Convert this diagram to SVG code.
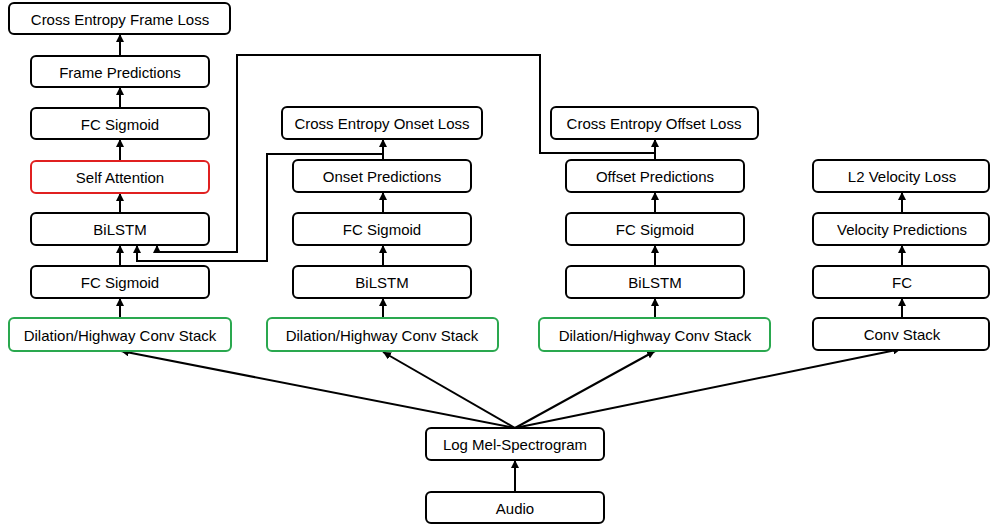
<svg xmlns="http://www.w3.org/2000/svg" width="990" height="524" viewBox="0 0 990 524">
<defs>
<marker id="ah" viewBox="0 0 8 8" refX="8" refY="4" markerWidth="8" markerHeight="8" markerUnits="userSpaceOnUse" orient="auto">
<path d="M0,0 L8,4 L0,8 Z" fill="#000"/>
</marker>
</defs>
<style>
.b{fill:#fff;stroke:#000;stroke-width:2}
.r{fill:#fff;stroke:#e02020;stroke-width:2}
.g{fill:#fff;stroke:#2aa84f;stroke-width:2}
text{font-family:"Liberation Sans",Arial,sans-serif;font-size:15px;text-anchor:middle;dominant-baseline:central;fill:#000}
.c{fill:none;stroke:#000;stroke-width:2}
</style>
<rect width="990" height="524" fill="#fff"/>
<g id="connectors">
<line class="c" x1="120" y1="56" x2="120" y2="34" marker-end="url(#ah)"/>
<line class="c" x1="120" y1="108" x2="120" y2="87" marker-end="url(#ah)"/>
<line class="c" x1="120" y1="161" x2="120" y2="139" marker-end="url(#ah)"/>
<line class="c" x1="120" y1="213" x2="120" y2="193" marker-end="url(#ah)"/>
<line class="c" x1="120" y1="266" x2="120" y2="245" marker-end="url(#ah)"/>
<line class="c" x1="120" y1="318" x2="120" y2="298" marker-end="url(#ah)"/>
<line class="c" x1="383" y1="160" x2="383" y2="139" marker-end="url(#ah)"/>
<line class="c" x1="383" y1="213" x2="383" y2="192" marker-end="url(#ah)"/>
<line class="c" x1="383" y1="266" x2="383" y2="245" marker-end="url(#ah)"/>
<line class="c" x1="383" y1="318" x2="383" y2="298" marker-end="url(#ah)"/>
<line class="c" x1="655" y1="160" x2="655" y2="139" marker-end="url(#ah)"/>
<line class="c" x1="655" y1="213" x2="655" y2="192" marker-end="url(#ah)"/>
<line class="c" x1="655" y1="266" x2="655" y2="245" marker-end="url(#ah)"/>
<line class="c" x1="655" y1="318" x2="655" y2="298" marker-end="url(#ah)"/>
<line class="c" x1="902" y1="213" x2="902" y2="192" marker-end="url(#ah)"/>
<line class="c" x1="902" y1="266" x2="902" y2="245" marker-end="url(#ah)"/>
<line class="c" x1="902" y1="318" x2="902" y2="298" marker-end="url(#ah)"/>
<line class="c" x1="515" y1="492" x2="515" y2="460" marker-end="url(#ah)"/>
<line class="c" x1="515" y1="428" x2="121" y2="351" marker-end="url(#ah)"/>
<line class="c" x1="515" y1="428" x2="383" y2="352" marker-end="url(#ah)"/>
<line class="c" x1="515" y1="428" x2="655" y2="351" marker-end="url(#ah)"/>
<line class="c" x1="515" y1="428" x2="901" y2="349" marker-end="url(#ah)"/>
<polyline class="c" points="655,153 540,153 540,55 237,55 237,252 157,252 157,245" marker-end="url(#ah)"/>
<polyline class="c" points="383,154 267,154 267,261 137,261 137,245" marker-end="url(#ah)"/>
</g>
<g id="n-frame-loss"><rect class="b" x="9" y="3" width="221" height="31" rx="5"/><text x="120" y="19">Cross Entropy Frame Loss</text></g>
<g id="n-frame-pred"><rect class="b" x="31" y="56" width="178" height="31" rx="5"/><text x="120" y="72">Frame Predictions</text></g>
<g id="n-fc-sig-1b"><rect class="b" x="31" y="108" width="178" height="31" rx="5"/><text x="120" y="124">FC Sigmoid</text></g>
<g id="n-self-att"><rect class="r" x="31" y="161" width="178" height="32" rx="5"/><text x="120" y="177">Self Attention</text></g>
<g id="n-bilstm-1"><rect class="b" x="31" y="213" width="178" height="32" rx="5"/><text x="120" y="229">BiLSTM</text></g>
<g id="n-fc-sig-1a"><rect class="b" x="31" y="266" width="178" height="32" rx="5"/><text x="120" y="282">FC Sigmoid</text></g>
<g id="n-dil-1"><rect class="g" x="9" y="318" width="222" height="33" rx="5"/><text x="120" y="335">Dilation/Highway Conv Stack</text></g>
<g id="n-onset-loss"><rect class="b" x="282" y="107" width="200" height="32" rx="5"/><text x="382" y="123">Cross Entropy Onset Loss</text></g>
<g id="n-onset-pred"><rect class="b" x="293" y="160" width="178" height="32" rx="5"/><text x="382" y="176">Onset Predictions</text></g>
<g id="n-fc-sig-2"><rect class="b" x="293" y="213" width="178" height="32" rx="5"/><text x="382" y="229">FC Sigmoid</text></g>
<g id="n-bilstm-2"><rect class="b" x="293" y="266" width="178" height="32" rx="5"/><text x="382" y="282">BiLSTM</text></g>
<g id="n-dil-2"><rect class="g" x="267" y="318" width="231" height="33" rx="5"/><text x="382" y="335">Dilation/Highway Conv Stack</text></g>
<g id="n-offset-loss"><rect class="b" x="551" y="107" width="207" height="32" rx="5"/><text x="654" y="123">Cross Entropy Offset Loss</text></g>
<g id="n-offset-pred"><rect class="b" x="566" y="160" width="178" height="32" rx="5"/><text x="655" y="176">Offset Predictions</text></g>
<g id="n-fc-sig-3"><rect class="b" x="566" y="213" width="178" height="32" rx="5"/><text x="655" y="229">FC Sigmoid</text></g>
<g id="n-bilstm-3"><rect class="b" x="566" y="266" width="178" height="32" rx="5"/><text x="655" y="282">BiLSTM</text></g>
<g id="n-dil-3"><rect class="g" x="539" y="318" width="231" height="33" rx="5"/><text x="655" y="335">Dilation/Highway Conv Stack</text></g>
<g id="n-vel-loss"><rect class="b" x="813" y="160" width="176" height="32" rx="5"/><text x="902" y="176">L2 Velocity Loss</text></g>
<g id="n-vel-pred"><rect class="b" x="813" y="213" width="176" height="32" rx="5"/><text x="902" y="229">Velocity Predictions</text></g>
<g id="n-fc"><rect class="b" x="813" y="266" width="176" height="32" rx="5"/><text x="902" y="282">FC</text></g>
<g id="n-conv"><rect class="b" x="813" y="318" width="176" height="32" rx="5"/><text x="902" y="334">Conv Stack</text></g>
<g id="n-logmel"><rect class="b" x="426" y="428" width="178" height="32" rx="5"/><text x="515" y="444">Log Mel-Spectrogram</text></g>
<g id="n-audio"><rect class="b" x="426" y="492" width="178" height="31" rx="5"/><text x="515" y="508">Audio</text></g>
</svg>
